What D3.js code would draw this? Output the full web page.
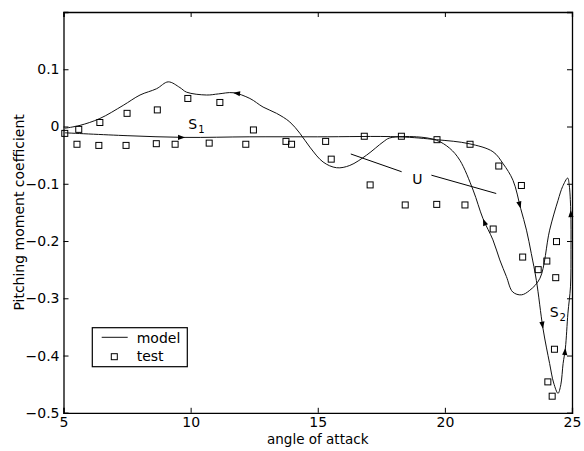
<!DOCTYPE html>
<html>
<head>
<meta charset="utf-8">
<script src="https://cdn.jsdelivr.net/npm/d3@7"></script>
<style>
  body { margin: 0; background: #fff; }
  text { font-family: "DejaVu Sans", sans-serif; fill: #000; }
</style>
</head>
<body>
<div id="chart"></div>
<script>
// test data (squares)
const testAlpha = [5.05, 5.6, 6.43, 7.5, 8.69, 9.89, 11.15, 12.47,
    5.53, 6.39, 7.46, 8.65, 9.39, 10.73, 12.17,
    13.75, 13.97, 15.31, 15.53, 16.83, 17.06, 18.29,
    18.44, 19.68, 19.69, 20.79, 20.99, 21.9, 22.12,
    23.01, 23.06, 23.67, 24.01, 24.36, 24.39, 24.31, 24.05, 24.22];
const testCm = [-0.012, -0.005, 0.007, 0.023, 0.029, 0.049, 0.042, -0.006,
    -0.031, -0.033, -0.033, -0.030, -0.031, -0.029, -0.031,
    -0.026, -0.031, -0.026, -0.057, -0.017, -0.102, -0.017,
    -0.137, -0.136, -0.023, -0.137, -0.031, -0.179, -0.069,
    -0.103, -0.228, -0.250, -0.235, -0.264, -0.201, -0.389, -0.446, -0.471];

// model hysteresis loop, in travel order (forward then back)
const modelAlpha = [5.06, 7.5, 9.78, 12.3, 15.0, 18.2, 19.67, 20.95, 21.89, 22.29, 22.68,
    22.98, 23.21, 23.40, 23.60, 23.86, 24.12, 24.28, 24.45, 24.56, 24.65, 24.74,
    24.84, 24.94, 24.96, 24.95, 24.89, 24.83,
    24.63, 24.45, 24.12, 23.74, 23.34, 23.01, 22.67, 22.42, 22.16, 21.89, 21.50,
    21.11, 20.59, 20.19, 19.67, 18.88, 17.83, 17.57, 16.92, 16.26, 15.74, 15.21,
    14.69, 14.30, 13.90, 13.38, 12.85, 12.33, 11.67, 11.1, 10.63, 9.84, 9.58,
    9.12, 8.66, 8.01, 7.35, 6.43, 5.65, 5.06];
const modelCm = [-0.011, -0.016, -0.019, -0.018, -0.018, -0.018, -0.023, -0.030, -0.044, -0.065, -0.094,
    -0.143, -0.181, -0.222, -0.269, -0.353, -0.414, -0.448, -0.466, -0.451, -0.414, -0.387,
    -0.326, -0.280, -0.215, -0.146, -0.102, -0.090,
    -0.105, -0.129, -0.181, -0.265, -0.286, -0.294, -0.289, -0.262, -0.233, -0.198, -0.161,
    -0.111, -0.059, -0.038, -0.024, -0.018, -0.020, -0.027, -0.050, -0.068, -0.072, -0.062,
    -0.036, -0.012, 0.008, 0.023, 0.034, 0.049, 0.059, 0.057, 0.055, 0.060, 0.068,
    0.078, 0.066, 0.055, 0.037, 0.014, 0.002, -0.003];
// indices of model points that carry a direction arrow
const arrowIdx = [2, 11, 15, 21, 25, 38, 56];

const xTicks = [5, 10, 15, 20, 25];
const yTicks = [-0.5, -0.4, -0.3, -0.2, -0.1, 0, 0.1];

// annotation text and U pointer lines
const labels = [
    {t: "S", sub: "1", x: 9.91, y: -0.0035},
    {t: "U", sub: "", x: 18.72, y: -0.100},
    {t: "S", sub: "2", x: 24.12, y: -0.333}
];
const uLines = [
    [[16.30, -0.048], [18.30, -0.079]],
    [[19.47, -0.085], [22.02, -0.117]]
];

const W = 584, H = 451;
const margin = {top: 12, right: 12, bottom: 38.2, left: 63.5};
const width = W - margin.left - margin.right;
const height = H - margin.top - margin.bottom;

const svg = d3.select("#chart").append("svg")
    .attr("width", W)
    .attr("height", H);
const g = svg.append("g")
    .attr("transform", "translate(" + margin.left + "," + margin.top + ")");

const xScale = d3.scaleLinear().domain([5, 25]).range([0, width]);
const yScale = d3.scaleLinear().domain([-0.5, 0.2]).range([height, 0]);

const yFmt = d => d === 0 ? "0" : d3.format(".1f")(d);

// axes, matlab style: ticks inward, box on
g.append("g")
    .attr("transform", "translate(0," + height + ")")
    .call(d3.axisBottom(xScale).tickValues(xTicks).tickSize(-5).tickPadding(4).tickFormat(d3.format("d")));
g.append("g")
    .call(d3.axisTop(xScale).tickValues(xTicks).tickSize(-5).tickFormat(""));
g.append("g")
    .call(d3.axisLeft(yScale).tickValues(yTicks).tickSize(-5).tickPadding(4).tickFormat(yFmt));
g.append("g")
    .attr("transform", "translate(" + width + ",0)")
    .call(d3.axisRight(yScale).tickValues(yTicks).tickSize(-5).tickFormat(""));
g.selectAll(".domain").attr("stroke", "#000").attr("stroke-width", 1.3);
g.selectAll(".tick line").attr("stroke", "#000");
g.selectAll(".tick text").style("font-size", "14px").style("font-family", "'DejaVu Sans', sans-serif");

// axis labels
svg.append("text")
    .attr("x", margin.left + width / 2)
    .attr("y", 444)
    .attr("text-anchor", "middle")
    .style("font-size", "13.5px")
    .text("angle of attack");
svg.append("text")
    .attr("transform", "translate(24," + (margin.top + height / 2) + ") rotate(-90)")
    .attr("text-anchor", "middle")
    .style("font-size", "14px")
    .text("Pitching moment coefficient");

// model curve
const modelPts = modelAlpha.map((a, i) => [xScale(a), yScale(modelCm[i])]);
const line = d3.line().curve(d3.curveCatmullRom.alpha(0.5));
g.append("path")
    .attr("d", line(modelPts))
    .attr("fill", "none")
    .attr("stroke", "#111")
    .attr("stroke-width", 1);

// arrowheads along model
g.selectAll(".arrow")
    .data(arrowIdx)
    .join("path")
    .attr("class", "arrow")
    .attr("d", "M0,0 L-7,-2.6 L-7,2.6 Z")
    .attr("fill", "#000")
    .attr("transform", i => {
        const p = modelPts[i], a = modelPts[i - 1], b = modelPts[i + 1];
        const ang = Math.atan2(b[1] - a[1], b[0] - a[0]) * 180 / Math.PI;
        return "translate(" + p[0] + "," + p[1] + ") rotate(" + ang + ")";
    });

// test squares
g.selectAll(".testSq")
    .data(testAlpha.map((a, i) => [a, testCm[i]]))
    .join("rect")
    .attr("class", "testSq")
    .attr("x", d => xScale(d[0]) - 3)
    .attr("y", d => yScale(d[1]) - 3)
    .attr("width", 6)
    .attr("height", 6)
    .attr("fill", "none")
    .attr("stroke", "#000")
    .attr("stroke-width", 1);

// U pointer lines
g.selectAll(".uLine")
    .data(uLines)
    .join("line")
    .attr("x1", d => xScale(d[0][0]))
    .attr("y1", d => yScale(d[0][1]))
    .attr("x2", d => xScale(d[1][0]))
    .attr("y2", d => yScale(d[1][1]))
    .attr("stroke", "#000")
    .attr("stroke-width", 1);

// annotation labels
labels.forEach(l => {
    const t = g.append("text")
        .attr("x", xScale(l.x))
        .attr("y", yScale(l.y))
        .style("font-size", "14px")
        .text(l.t);
    if (l.sub) {
        t.append("tspan")
            .attr("dy", 4)
            .attr("dx", 1)
            .style("font-size", "10px")
            .text(l.sub);
    }
});

// legend
const leg = svg.append("g").attr("transform", "translate(92.3,327.7)");
leg.append("rect")
    .attr("width", 95)
    .attr("height", 39)
    .attr("fill", "#fff")
    .attr("stroke", "#000")
    .attr("stroke-width", 1.2);
leg.append("line")
    .attr("x1", 9.4).attr("x2", 35.4)
    .attr("y1", 9.6).attr("y2", 9.6)
    .attr("stroke", "#111");
leg.append("rect")
    .attr("x", 19).attr("y", 26)
    .attr("width", 6).attr("height", 6)
    .attr("fill", "none").attr("stroke", "#000");
leg.append("text").attr("x", 44.4).attr("y", 15.5).style("font-size", "14px").text("model");
leg.append("text").attr("x", 44.4).attr("y", 33.5).style("font-size", "14px").text("test");
</script>
</body>
</html>
